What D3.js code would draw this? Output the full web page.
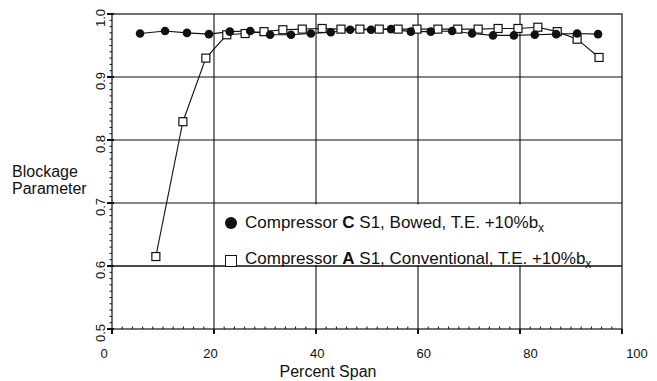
<!DOCTYPE html>
<html>
<head>
<meta charset="utf-8">
<script src="https://cdn.jsdelivr.net/npm/d3@7"></script>
<style>
  body { margin: 0; background: #fff; }
  svg text { font-family: "Liberation Sans", Arial, Helvetica, sans-serif; fill: #111; }
</style>
</head>
<body>
<svg id="chart"></svg>
<script>
// percent span of each measurement, compressor C (filled circles)
const spanC = [5.5, 10.4, 14.7, 19.0, 23.1, 27.1, 31.0, 35.1, 39.0, 42.9, 46.7, 50.8,
    54.7, 58.6, 62.5, 66.7, 70.6, 74.7, 78.8, 82.9, 87.1, 91.2, 95.3];
const blockC = [0.969, 0.973, 0.970, 0.968, 0.972, 0.973, 0.967, 0.967, 0.969, 0.971, 0.975, 0.975,
    0.976, 0.972, 0.972, 0.973, 0.969, 0.966, 0.966, 0.967, 0.968, 0.969, 0.968];
// compressor A (open squares)
const spanA = [8.6, 13.9, 18.4, 22.5, 26.1, 29.8, 33.5, 37.3, 41.2, 44.9, 48.6, 52.4,
    56.1, 59.8, 63.9, 67.8, 71.8, 75.7, 79.6, 83.5, 87.3, 91.2, 95.5];
const blockA = [0.615, 0.829, 0.930, 0.967, 0.969, 0.972, 0.975, 0.976, 0.977, 0.976, 0.976, 0.976,
    0.976, 0.976, 0.976, 0.976, 0.976, 0.977, 0.977, 0.979, 0.972, 0.960, 0.931];
// tick labels
const xTicks = [0, 20, 40, 60, 80, 100];
const yTicks = [0.5, 0.6, 0.7, 0.8, 0.9, 1.0];

const svg = d3.select('#chart')
    .attr('width', 657)
    .attr('height', 381);

// plot area
const x = d3.scaleLinear().domain([0, 100]).range([112, 622]),
    y = d3.scaleLinear().domain([0.5, 1.0]).range([329, 14]),
// the printed labels sit a little wider than the ticks
    xLab = d3.scaleLinear().domain([0, 100]).range([104, 637]);

const ink = '#111';

// grid
svg.append('g').selectAll('line').data(xTicks.slice(1, -1)).join('line')
    .attr('x1', d => x(d)).attr('x2', d => x(d))
    .attr('y1', y(1)).attr('y2', y(0.5) + 5)
    .attr('stroke', ink).attr('stroke-width', 1.1);
svg.append('g').selectAll('line').data(yTicks.slice(1, -1)).join('line')
    .attr('x1', x(0) - 4).attr('x2', x(100))
    .attr('y1', d => y(d)).attr('y2', d => y(d))
    .attr('stroke', ink).attr('stroke-width', 1.1);

// frame
svg.append('rect')
    .attr('x', x(0)).attr('y', y(1))
    .attr('width', x(100) - x(0)).attr('height', y(0.5) - y(1))
    .attr('fill', 'none').attr('stroke', ink).attr('stroke-width', 1.2);

// minor ticks
svg.append('g').selectAll('line').data(d3.range(0, 100.1, 2)).join('line')
    .attr('x1', d => x(d)).attr('x2', d => x(d))
    .attr('y1', y(0.5)).attr('y2', d => d % 20 === 0 ? y(0.5) + 5 : y(0.5) - 2.5)
    .attr('stroke', ink).attr('stroke-width', d => d % 20 === 0 ? 2 : 1);
svg.append('g').selectAll('line').data(d3.range(0.5, 1.0001, 0.01)).join('line')
    .attr('x1', x(0) - 2.5).attr('x2', x(0))
    .attr('y1', d => y(d)).attr('y2', d => y(d))
    .attr('stroke', ink).attr('stroke-width', 1);
svg.append('g').selectAll('line').data(yTicks).join('line')
    .attr('x1', x(0) - 5).attr('x2', x(0) + 2)
    .attr('y1', d => y(d)).attr('y2', d => y(d))
    .attr('stroke', ink).attr('stroke-width', 2);

// tick labels
svg.append('g').selectAll('text').data(xTicks).join('text')
    .attr('x', d => xLab(d)).attr('y', 358)
    .attr('text-anchor', 'middle')
    .style('font-size', '13px')
    .text(d => d);
svg.append('g').selectAll('text').data(yTicks).join('text')
    .attr('transform', d => `translate(105,${y(d) + 4}) rotate(-90)`)
    .attr('text-anchor', 'middle')
    .style('font-size', '13px')
    .text(d => d.toFixed(1));

// axis titles
svg.append('text').attr('x', 328).attr('y', 377)
    .attr('text-anchor', 'middle').style('font-size', '16px')
    .text('Percent Span');
svg.append('text').attr('x', 12).attr('y', 177)
    .style('font-size', '16px').text('Blockage');
svg.append('text').attr('x', 12).attr('y', 194)
    .style('font-size', '16px').text('Parameter');

// legend background hides the grid behind it
svg.append('rect')
    .attr('x', 216).attr('y', y(0.7) + 1.5)
    .attr('width', 396).attr('height', y(0.6) - y(0.7) - 2.5)
    .attr('fill', '#fff');
// the 0.6 grid line shows through under the second entry
svg.append('line')
    .attr('x1', x(0)).attr('x2', x(100))
    .attr('y1', y(0.6)).attr('y2', y(0.6))
    .attr('stroke', ink).attr('stroke-width', 1.1);

// series lines
const line = d3.line().x(d => x(d[0])).y(d => y(d[1]));
const ptsC = d3.zip(spanC, blockC),
    ptsA = d3.zip(spanA, blockA);

svg.append('path').datum(ptsA).attr('d', line)
    .attr('fill', 'none').attr('stroke', ink).attr('stroke-width', 1.1);
svg.append('path').datum(ptsC).attr('d', line)
    .attr('fill', 'none').attr('stroke', ink).attr('stroke-width', 1.1);

// markers
svg.append('g').selectAll('rect').data(ptsA).join('rect')
    .attr('x', d => x(d[0]) - 4).attr('y', d => y(d[1]) - 4)
    .attr('width', 8).attr('height', 8)
    .attr('fill', '#fff').attr('stroke', ink).attr('stroke-width', 1.2);
svg.append('g').selectAll('circle').data(ptsC).join('circle')
    .attr('cx', d => x(d[0])).attr('cy', d => y(d[1]))
    .attr('r', 4.3).attr('fill', ink);

// legend entries
const legend = svg.append('g');
legend.append('circle').attr('cx', 231).attr('cy', 223).attr('r', 6).attr('fill', ink);
legend.append('rect').attr('x', 225.5).attr('y', 255.5).attr('width', 11).attr('height', 11)
    .attr('fill', '#fff').attr('stroke', ink).attr('stroke-width', 1);

function entry(yPos, letter, rest) {
    const t = legend.append('text').attr('x', 245).attr('y', yPos).style('font-size', '17px');
    t.append('tspan').text('Compressor ');
    t.append('tspan').style('font-weight', 'bold').text(letter);
    t.append('tspan').text(rest);
    t.append('tspan').attr('dy', 4).style('font-size', '12px').text('x');
}
entry(228, 'C', ' S1, Bowed, T.E. +10%b');
entry(264, 'A', ' S1, Conventional, T.E. +10%b');
</script>
</body>
</html>
